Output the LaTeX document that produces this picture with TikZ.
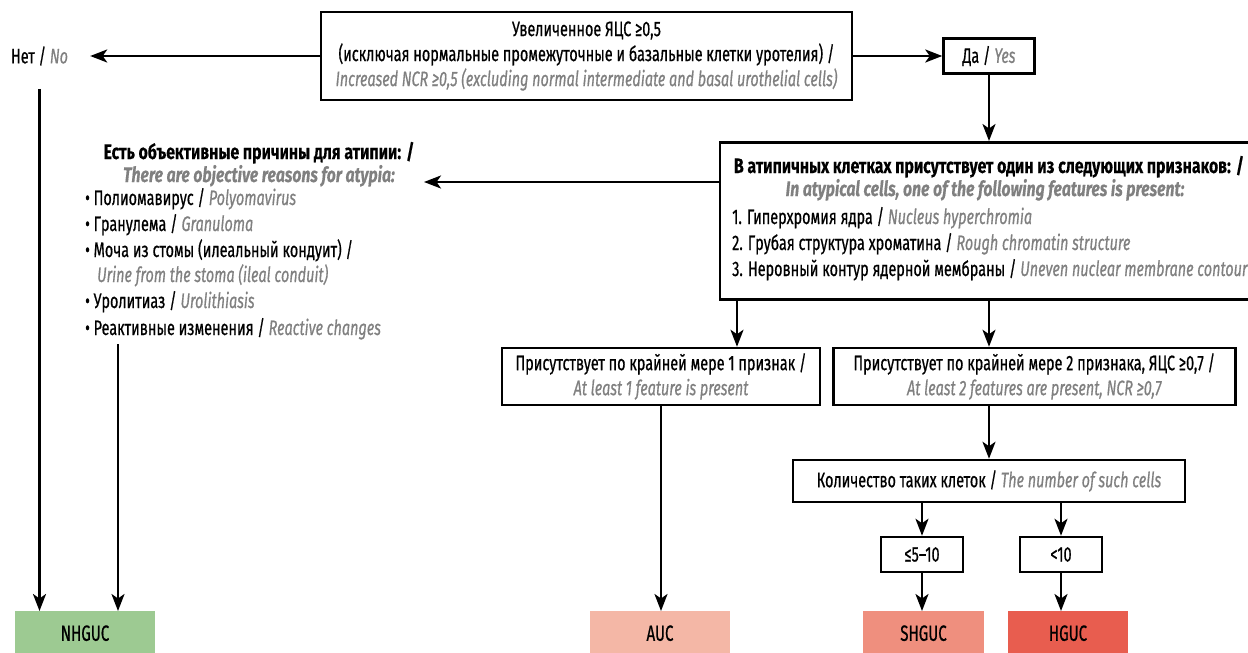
\documentclass[tikz,border=0pt]{standalone}
\usepackage{fontspec}
\setmainfont{Fira Sans}[FakeStretch=0.686, FakeBold=0.6,
  BoldFeatures={FakeStretch=0.752, FakeBold=0.3}, BoldItalicFeatures={FakeStretch=0.752, FakeBold=0.3}]
\usetikzlibrary{arrows.meta}
\definecolor{engrey}{HTML}{808080}
\definecolor{cNH}{HTML}{9DCA92}
\definecolor{cAUC}{HTML}{F4B7A6}
\definecolor{cSH}{HTML}{EF8F7E}
\definecolor{cHG}{HTML}{E85D4F}
\newcommand\en[1]{{\color{engrey}\itshape #1}}
\begin{document}
\begin{tikzpicture}[x=1pt,y=-1pt,
  every node/.style={font=\fontsize{21}{25}\selectfont, inner sep=0pt},
  bold/.style={font=\fontsize{21}{25}\selectfont\bfseries},
  box/.style={draw, line width=2.5pt, align=center, fill=white},
  arr/.style={line width=2.5pt, -{Stealth[length=17pt,width=13pt,inset=4.5pt]}},
  res/.style={minimum height=44pt, anchor=north, font=\fontsize{22}{25}\selectfont},
  lt/.style={anchor=base west},
  ct/.style={anchor=base},
]
\useasboundingbox (0,0) rectangle (1248,653);

% top
\node[box, minimum width=531, minimum height=88] (top) at (586.5,56)
  {Увеличенное ЯЦС ≥0,5\\(исключая нормальные промежуточные и базальные клетки уротелия) /\\\en{Increased NCR ≥0,5 (excluding normal intermediate and basal urothelial cells)}};
\node (no) at (39.5,56) {Нет / \en{No}};
\node[box, minimum width=91, minimum height=35] (yes) at (989,56) {Да / \en{Yes}};
\draw[arr, shorten >=22pt] (top.west) -- (no.east);
\draw[arr] (top.east) -- (yes.west);

% features box
\node[box, minimum width=538, minimum height=157, anchor=north] (feat) at (989,141) {};
\draw[arr] (yes.south) -- (feat.north);
\node[ct, bold] (featT) at (989,173) {В атипичных клетках присутствует один из следующих признаков: /};
\node[ct, bold] (featS) at (985,196) {\en{In atypical cells, one of the following features is present:}};
\node[lt] (fi1) at (732,224) {1. Гиперхромия ядра / \en{Nucleus hyperchromia}};
\node[lt] (fi2) at (732,250) {2. Грубая структура хроматина / \en{Rough chromatin structure}};
\node[lt] (fi3) at (732,276) {3. Неровный контур ядерной мембраны / \en{Uneven nuclear membrane contour}};

% reasons
\node[ct, bold] (rT) at (259,159) {Есть объективные причины для атипии: /};
\node[ct, bold] (rS) at (259,182) {\en{There are objective reasons for atypia:}};
\node[lt] (r1) at (85,205) {• Полиомавирус / \en{Polyomavirus}};
\node[lt] (r2) at (85,231) {• Гранулема / \en{Granuloma}};
\node[lt] (r3) at (85,257) {• Моча из стомы (илеальный кондуит) /};
\node[lt] (r3b) at (97,282) {\en{Urine from the stoma (ileal conduit)}};
\node[lt] (r4) at (85,308) {• Уролитиаз / \en{Urolithiasis}};
\node[lt] (r5) at (85,335) {• Реактивные изменения / \en{Reactive changes}};
\coordinate (rtip) at (424,182);
\coordinate (rstart) at (118,344);
\draw[arr] (feat.west |- rtip) -- (rtip);

% second level
\node[box, minimum width=318, minimum height=57] (b1) at (661,376.5)
  {Присутствует по крайней мере 1 признак /\\\en{At least 1 feature is present}};
\node[box, minimum width=402, minimum height=57, anchor=west] (b2) at (832,376.5)
  {Присутствует по крайней мере 2 признака, ЯЦС ≥0,7 /\\\en{At least 2 features are present, NCR ≥0,7}};
\coordinate (fa) at (737,298);
\draw[arr] (fa) -- (fa |- b1.north);
\draw[arr] (feat.south) -- (feat.south |- b2.north);

\node[box, minimum width=392, minimum height=42] (kol) at (989,481)
  {Количество таких клеток / \en{The number of such cells}};
\draw[arr] (feat.south |- b2.south) -- (kol.north);
\node[box, minimum width=82, minimum height=35] (le) at (922,554.5) {≤5–10};
\node[box, minimum width=82, minimum height=35] (ltn) at (1061,554.5) {<10};
\draw[arr] (kol.south -| le) -- (le.north);
\draw[arr] (kol.south -| ltn) -- (ltn.north);

% results
\node[res, fill=cNH, minimum width=140] (nhguc) at (85,611) {NHGUC};
\node[res, fill=cAUC, minimum width=140] (auc) at (660,611) {AUC};
\node[res, fill=cSH, minimum width=121] (shguc) at (923.5,611) {SHGUC};
\node[res, fill=cHG, minimum width=120] (hguc) at (1068,611) {HGUC};

\draw[arr, shorten <=23pt] (no.south) -- (no.south |- nhguc.north);
\draw[arr] (rstart) -- (rstart |- nhguc.north);
\draw[arr] (b1.south) -- (b1.south |- auc.north);
\draw[arr] (le.south) -- (le.south |- shguc.north);
\draw[arr] (ltn.south) -- (ltn.south |- hguc.north);
\end{tikzpicture}
\end{document}
